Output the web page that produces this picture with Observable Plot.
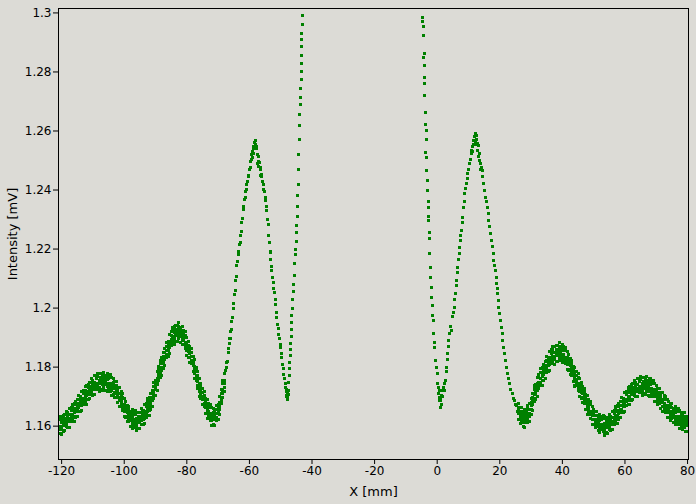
<!DOCTYPE html>
<html>
<head>
<meta charset="utf-8">
<script src="https://cdn.jsdelivr.net/npm/d3@7"></script>
<script src="https://cdn.jsdelivr.net/npm/@observablehq/plot@0.6"></script>
<style>
  html, body { margin: 0; padding: 0; background: #dcdbd6; }
  #chart { width: 696px; height: 504px; }
  #chart g[aria-label="x-axis label"] text,
  #chart g[aria-label="y-axis label"] text { font-size: 13px; }
</style>
</head>
<body>
<div id="chart"></div>
<script>
// Tick labels
const xTicks = [-120, -100, -80, -60, -40, -20, 0, 20, 40, 60, 80];
const yTicks = [1.16, 1.18, 1.2, 1.22, 1.24, 1.26, 1.28, 1.3];

// Left noisy band (columns of readings)
const bandLeftX = [-120.5,-120,-119.5,-119,-118.5,-118,-117.5,-117,-116.5,-116,-115.5,-115,-114.5,-114,-113.5,-113,-112.5,-112,-111.5,-111,-110.5,-110,-109.5,-109,-108.5,-108,-107.5,-107,-106.5,-106,-105.5,-105,-104.5,-104,-103.5,-103,-102.5,-102,-101.5,-101,-100.5,-100,-99.5,-99,-98.5,-98,-97.5,-97,-96.5,-96,-95.5,-95,-94.5,-94,-93.5,-93,-92.5,-92,-91.5,-91,-90.5,-90,-89.5,-89,-88.5,-88,-87.5,-87,-86.5,-86,-85.5,-85,-84.5,-84,-83.5,-83,-82.5,-82,-81.5,-81,-80.5,-80,-79.5,-79,-78.5,-78,-77.5,-77,-76.5,-76,-75.5,-75,-74.5,-74,-73.5,-73,-72.5,-72,-71.5,-71,-70.5,-70,-69.5,-69,-68.5,-68];
const bandLeftY = [
[1.1576,1.1598,1.1621,1.1587,1.1632],[1.1587,1.1611,1.1632,1.1571,1.1599],[1.1583,1.1602,1.1624,1.1613,1.1636],[1.1603,1.1626,1.1639,1.1584,1.1614],
[1.1599,1.1623,1.1638,1.1610,1.1651],[1.1595,1.1615,1.1634,1.1625,1.1645],[1.1615,1.1638,1.1660,1.1597,1.1626],[1.1617,1.1637,1.1653,1.1628,1.1664],
[1.1619,1.1641,1.1664,1.1630,1.1675],[1.1633,1.1657,1.1678,1.1617,1.1645],[1.1631,1.1650,1.1672,1.1661,1.1684],[1.1653,1.1676,1.1689,1.1634,1.1664],
[1.1651,1.1675,1.1690,1.1662,1.1703],[1.1649,1.1669,1.1688,1.1679,1.1699],[1.1671,1.1694,1.1716,1.1653,1.1682],[1.1673,1.1693,1.1709,1.1684,1.1720],
[1.1677,1.1699,1.1722,1.1688,1.1733],[1.1691,1.1715,1.1736,1.1675,1.1703],[1.1689,1.1708,1.1730,1.1719,1.1742],[1.1711,1.1734,1.1747,1.1692,1.1722],
[1.1708,1.1732,1.1747,1.1719,1.1760],[1.1705,1.1725,1.1744,1.1735,1.1755],[1.1725,1.1748,1.1770,1.1707,1.1736],[1.1724,1.1744,1.1760,1.1735,1.1771],
[1.1724,1.1746,1.1769,1.1735,1.1780],[1.1732,1.1756,1.1777,1.1716,1.1744],[1.1725,1.1744,1.1766,1.1755,1.1778],[1.1740,1.1763,1.1776,1.1721,1.1751],
[1.1731,1.1755,1.1770,1.1742,1.1783],[1.1721,1.1741,1.1760,1.1751,1.1771],[1.1734,1.1757,1.1779,1.1716,1.1745],[1.1726,1.1746,1.1762,1.1737,1.1773],
[1.1719,1.1741,1.1764,1.1730,1.1775],[1.1721,1.1745,1.1766,1.1705,1.1733],[1.1707,1.1726,1.1748,1.1737,1.1760],[1.1715,1.1738,1.1751,1.1696,1.1726],
[1.1698,1.1722,1.1737,1.1709,1.1750],[1.1681,1.1701,1.1720,1.1711,1.1731],[1.1686,1.1709,1.1731,1.1668,1.1697],[1.1670,1.1690,1.1706,1.1681,1.1717],
[1.1653,1.1675,1.1698,1.1664,1.1709],[1.1648,1.1672,1.1693,1.1632,1.1660],[1.1629,1.1648,1.1670,1.1659,1.1682],[1.1634,1.1657,1.1670,1.1615,1.1645],
[1.1616,1.1640,1.1655,1.1627,1.1668],[1.1600,1.1620,1.1639,1.1630,1.1650],[1.1610,1.1633,1.1655,1.1592,1.1621],[1.1602,1.1622,1.1638,1.1613,1.1649],
[1.1596,1.1618,1.1641,1.1607,1.1652],[1.1601,1.1625,1.1646,1.1585,1.1613],[1.1593,1.1612,1.1634,1.1623,1.1646],[1.1611,1.1634,1.1647,1.1592,1.1622],
[1.1607,1.1631,1.1646,1.1618,1.1659],[1.1604,1.1624,1.1643,1.1634,1.1654],[1.1627,1.1650,1.1672,1.1609,1.1638],[1.1631,1.1651,1.1667,1.1642,1.1678],
[1.1637,1.1659,1.1682,1.1648,1.1693],[1.1653,1.1677,1.1698,1.1637,1.1665],[1.1657,1.1676,1.1698,1.1687,1.1710],[1.1686,1.1709,1.1722,1.1667,1.1697],
[1.1695,1.1719,1.1734,1.1706,1.1747],[1.1705,1.1725,1.1744,1.1735,1.1755],[1.1740,1.1763,1.1785,1.1722,1.1751],[1.1755,1.1775,1.1791,1.1766,1.1802],
[1.1766,1.1788,1.1811,1.1777,1.1822],[1.1788,1.1812,1.1833,1.1772,1.1800],[1.1795,1.1814,1.1836,1.1825,1.1848],[1.1826,1.1849,1.1862,1.1807,1.1837],
[1.1832,1.1856,1.1871,1.1843,1.1884],[1.1837,1.1857,1.1876,1.1867,1.1887],[1.1865,1.1888,1.1910,1.1847,1.1876],[1.1872,1.1892,1.1908,1.1883,1.1919],
[1.1879,1.1901,1.1924,1.1890,1.1935],[1.1892,1.1916,1.1937,1.1876,1.1904],[1.1888,1.1907,1.1929,1.1918,1.1941],[1.1906,1.1929,1.1942,1.1887,1.1917],
[1.1898,1.1922,1.1937,1.1909,1.1950],[1.1885,1.1905,1.1924,1.1915,1.1935],[1.1893,1.1916,1.1938,1.1875,1.1904],[1.1878,1.1898,1.1914,1.1889,1.1925],
[1.1863,1.1885,1.1908,1.1874,1.1919],[1.1856,1.1880,1.1901,1.1840,1.1868],[1.1833,1.1852,1.1874,1.1863,1.1886],[1.1834,1.1857,1.1870,1.1815,1.1845],
[1.1811,1.1835,1.1850,1.1822,1.1863],[1.1785,1.1805,1.1824,1.1815,1.1835],[1.1780,1.1803,1.1825,1.1762,1.1791],[1.1753,1.1773,1.1789,1.1764,1.1800],
[1.1728,1.1750,1.1773,1.1739,1.1784],[1.1718,1.1742,1.1763,1.1702,1.1730],[1.1693,1.1712,1.1734,1.1723,1.1746],[1.1691,1.1714,1.1727,1.1672,1.1702],
[1.1666,1.1690,1.1705,1.1677,1.1718],[1.1643,1.1663,1.1682,1.1673,1.1693],[1.1645,1.1668,1.1690,1.1627,1.1656],[1.1631,1.1651,1.1667,1.1642,1.1678],
[1.1619,1.1641,1.1664,1.1630,1.1675],[1.1619,1.1643,1.1664,1.1603,1.1631],[1.1606,1.1625,1.1647,1.1636,1.1659],[1.1622,1.1645,1.1658,1.1603,1.1633],
[1.1619,1.1643,1.1658,1.1630,1.1671],[1.1622,1.1642,1.1661,1.1652,1.1672],[1.1657,1.1680,1.1702,1.1639,1.1668],[1.1676,1.1696,1.1712,1.1687,1.1723],
[1.1698,1.1720,1.1743,1.1709,1.1754],[1.1732,1.1756,1.1777,1.1716,1.1744]
];

// Left steep part: main left lobe and the rising edge toward the gap
const slopeLeftX = [-67.6,-67.4,-67.2,-67.0,-66.8,-66.6,-66.4,-66.2,-66.0,-65.8,-65.6,-65.4,-65.2,-65.0,-64.8,-64.6,-64.4,-64.2,-64.0,-63.8,-63.6,-63.4,-63.2,-63.0,-62.8,-62.6,-62.4,-62.2,-62.0,-61.8,-61.6,-61.4,-61.2,-61.0,-60.8,-60.6,-60.4,-60.2,-60.0,-59.8,-59.6,-59.4,-59.2,-59.0,-58.9,-58.8,-58.7,-58.6,-58.4,-58.2,-58.0,-57.8,-57.6,-57.5,-57.4,-57.2,-57.1,-57.0,-56.8,-56.6,-56.5,-56.4,-56.2,-56.0,-55.8,-55.6,-55.4,-55.2,-55.0,-54.8,-54.6,-54.4,-54.2,-54.0,-53.8,-53.6,-53.4,-53.2,-53.0,-52.8,-52.6,-52.4,-52.2,-52.0,-51.8,-51.6,-51.4,-51.2,-51.0,-50.8,-50.6,-50.4,-50.2,-50.0,-49.8,-49.6,-49.4,-49.2,-49.0,-48.8,-48.6,-48.4,-48.3,-48.2,-48.1,-48.0,-47.9,-47.8,-47.7,-47.6,-47.5,-47.4,-47.3,-47.2,-47.1,-47.0,-46.9,-46.8,-46.7,-46.6,-46.5,-46.4,-46.3,-46.1,-46.0,-45.9,-45.7,-45.5,-45.3,-45.2,-45.0,-44.9,-44.8,-44.7,-44.6,-44.5,-44.4,-44.3,-44.2,-44.1,-44.0,-43.9,-43.8,-43.7,-43.6,-43.5,-43.45,-43.4,-43.35,-43.3,-43.25,-43.2,-43.15,-43.1];
const slopeLeftY = [1.1790,1.1800,1.1815,1.1820,1.1850,1.1862,1.1880,1.1898,1.1920,1.1928,1.1955,1.1968,1.1998,1.2015,1.2045,1.2060,1.2092,1.2108,1.2145,1.2158,1.2182,1.2190,1.2215,1.2222,1.2245,1.2258,1.2290,1.2305,1.2335,1.2345,1.2368,1.2375,1.2395,1.2402,1.2420,1.2428,1.2445,1.2450,1.2470,1.2475,1.2495,1.2505,1.2522,1.2530,1.2510,1.2548,1.2525,1.2540,1.2562,1.2555,1.2568,1.2548,1.2542,1.2490,1.2520,1.2514,1.2480,1.2498,1.2492,1.2475,1.2450,1.2470,1.2452,1.2445,1.2430,1.2420,1.2402,1.2395,1.2375,1.2365,1.2345,1.2330,1.2300,1.2282,1.2245,1.2222,1.2190,1.2165,1.2140,1.2128,1.2102,1.2088,1.2065,1.2052,1.2028,1.2012,1.1985,1.1968,1.1945,1.1932,1.1910,1.1897,1.1878,1.1866,1.1845,1.1832,1.1810,1.1796,1.1775,1.1762,1.1745,1.1732,1.1700,1.1718,1.1725,1.1705,1.1690,1.1715,1.1698,1.1708,1.1720,1.1748,1.1770,1.1795,1.1815,1.1838,1.1860,1.1880,1.1905,1.1928,1.1950,1.1975,1.1998,1.2030,1.2055,1.2080,1.2110,1.2150,1.2180,1.2200,1.2225,1.2255,1.2280,1.2310,1.2345,1.2380,1.2420,1.2470,1.2520,1.2570,1.2620,1.2655,1.2690,1.2715,1.2745,1.2775,1.2800,1.2830,1.2855,1.2885,1.2910,1.2930,1.2962,1.2992];

// Right steep part: falling edge after the gap, central-right lobe
const slopeRightX = [-4.6,-4.55,-4.4,-4.3,-4.2,-4.25,-4.1,-4.0,-4.0,-3.95,-3.7,-3.6,-3.55,-3.5,-3.6,-3.5,-3.3,-3.2,-3.1,-2.9,-2.8,-2.7,-2.7,-2.5,-2.4,-2.4,-2.2,-2.15,-1.9,-1.7,-1.6,-1.4,-1.3,-1.1,-0.9,-0.8,-0.5,-0.3,0.0,0.2,0.4,0.5,0.6,0.8,0.9,1.0,1.2,1.3,1.5,1.6,1.8,2.0,2.2,2.4,2.7,2.9,3.0,3.2,3.4,3.6,3.7,4.0,4.3,4.5,4.8,5.1,5.4,5.6,5.9,6.1,6.2,6.4,6.5,6.8,7.0,7.2,7.3,7.5,7.7,8.0,8.2,8.5,8.7,8.8,9.1,9.4,9.6,9.8,10.1,10.4,10.6,10.9,11.1,11.2,11.4,11.5,11.7,12.0,12.1,12.3,12.5,12.6,12.7,12.8,13.0,13.1,13.3,13.5,13.6,13.9,14.0,14.1,14.4,14.6,14.9,15.2,15.5,15.7,16.0,16.3,16.5,16.8,17.1,17.3,17.6,17.9,18.1,18.4,18.7,18.8,19.0,19.2,19.4,19.6,19.7,20.0,20.3,20.5,20.8,21.0,21.3,21.5,21.8,22.1,22.4,22.7,23.1,23.5,24.0,24.3,24.7,25.0,25.4,25.6];
const slopeRightY = [1.2984,1.2970,1.2955,1.2922,1.2862,1.2850,1.2823,1.2781,1.2761,1.2720,1.2662,1.2622,1.2602,1.2570,1.2527,1.2510,1.2467,1.2431,1.2398,1.2360,1.2340,1.2310,1.2297,1.2255,1.2236,1.2184,1.2138,1.2104,1.2071,1.2035,1.2010,1.1975,1.1958,1.1914,1.1885,1.1868,1.1823,1.1800,1.1778,1.1744,1.1731,1.1710,1.1697,1.1720,1.1687,1.1664,1.1690,1.1705,1.1675,1.1720,1.1700,1.1730,1.1745,1.1720,1.1755,1.1785,1.1800,1.1825,1.1845,1.1870,1.1891,1.1915,1.1936,1.1925,1.1970,1.1985,1.2003,1.2030,1.2049,1.2075,1.2094,1.2139,1.2120,1.2165,1.2184,1.2205,1.2229,1.2245,1.2263,1.2290,1.2308,1.2342,1.2360,1.2388,1.2405,1.2422,1.2440,1.2456,1.2470,1.2489,1.2505,1.2523,1.2535,1.2546,1.2530,1.2555,1.2568,1.2580,1.2560,1.2591,1.2570,1.2555,1.2585,1.2557,1.2535,1.2550,1.2512,1.2525,1.2500,1.2489,1.2470,1.2475,1.2467,1.2445,1.2422,1.2400,1.2376,1.2360,1.2342,1.2320,1.2297,1.2275,1.2252,1.2230,1.2207,1.2185,1.2162,1.2145,1.2128,1.2105,1.2083,1.2065,1.2049,1.2025,1.2003,1.1980,1.1958,1.1935,1.1913,1.1890,1.1868,1.1845,1.1823,1.1800,1.1778,1.1760,1.1744,1.1725,1.1710,1.1695,1.1687,1.1675,1.1670,1.1650];

// Right noisy band
const bandRightX = [26,26.5,27,27.5,28,28.5,29,29.5,30,30.5,31,31.5,32,32.5,33,33.5,34,34.5,35,35.5,36,36.5,37,37.5,38,38.5,39,39.5,40,40.5,41,41.5,42,42.5,43,43.5,44,44.5,45,45.5,46,46.5,47,47.5,48,48.5,49,49.5,50,50.5,51,51.5,52,52.5,53,53.5,54,54.5,55,55.5,56,56.5,57,57.5,58,58.5,59,59.5,60,60.5,61,61.5,62,62.5,63,63.5,64,64.5,65,65.5,66,66.5,67,67.5,68,68.5,69,69.5,70,70.5,71,71.5,72,72.5,73,73.5,74,74.5,75,75.5,76,76.5,77,77.5,78,78.5,79,79.5];
const bandRightY = [
[1.1623,1.1642,1.1664,1.1653,1.1676],[1.1628,1.1651,1.1664,1.1609,1.1639],[1.1612,1.1636,1.1651,1.1623,1.1664],[1.1599,1.1619,1.1638,1.1629,1.1649],
[1.1613,1.1636,1.1658,1.1595,1.1624],[1.1611,1.1631,1.1647,1.1622,1.1658],[1.1614,1.1636,1.1659,1.1625,1.1670],[1.1632,1.1656,1.1677,1.1616,1.1644],
[1.1639,1.1658,1.1680,1.1669,1.1692],[1.1673,1.1696,1.1709,1.1654,1.1684],[1.1684,1.1708,1.1723,1.1695,1.1736],[1.1690,1.1710,1.1729,1.1720,1.1740],
[1.1720,1.1743,1.1765,1.1702,1.1731],[1.1729,1.1749,1.1765,1.1740,1.1776],[1.1738,1.1760,1.1783,1.1749,1.1794],[1.1755,1.1779,1.1800,1.1739,1.1767],
[1.1756,1.1775,1.1797,1.1786,1.1809],[1.1782,1.1805,1.1818,1.1763,1.1793],[1.1783,1.1807,1.1822,1.1794,1.1835],[1.1784,1.1804,1.1823,1.1814,1.1834],
[1.1808,1.1831,1.1853,1.1790,1.1819],[1.1811,1.1831,1.1847,1.1822,1.1858],[1.1814,1.1836,1.1859,1.1825,1.1870],[1.1825,1.1849,1.1870,1.1809,1.1837],
[1.1820,1.1839,1.1861,1.1850,1.1873],[1.1838,1.1861,1.1874,1.1819,1.1849],[1.1830,1.1854,1.1869,1.1841,1.1882],[1.1821,1.1841,1.1860,1.1851,1.1871],
[1.1833,1.1856,1.1878,1.1815,1.1844],[1.1823,1.1843,1.1859,1.1834,1.1870],[1.1812,1.1834,1.1857,1.1823,1.1868],[1.1809,1.1833,1.1854,1.1793,1.1821],
[1.1789,1.1808,1.1830,1.1819,1.1842],[1.1793,1.1816,1.1829,1.1774,1.1804],[1.1772,1.1796,1.1811,1.1783,1.1824],[1.1751,1.1771,1.1790,1.1781,1.1801],
[1.1754,1.1777,1.1799,1.1736,1.1765],[1.1737,1.1757,1.1773,1.1748,1.1784],[1.1721,1.1743,1.1766,1.1732,1.1777],[1.1716,1.1740,1.1761,1.1700,1.1728],
[1.1695,1.1714,1.1736,1.1725,1.1748],[1.1698,1.1721,1.1734,1.1679,1.1709],[1.1677,1.1701,1.1716,1.1688,1.1729],[1.1656,1.1676,1.1695,1.1686,1.1706],
[1.1659,1.1682,1.1704,1.1641,1.1670],[1.1642,1.1662,1.1678,1.1653,1.1689],[1.1627,1.1649,1.1672,1.1638,1.1683],[1.1623,1.1647,1.1668,1.1607,1.1635],
[1.1605,1.1624,1.1646,1.1635,1.1658],[1.1613,1.1636,1.1649,1.1594,1.1624],[1.1598,1.1622,1.1637,1.1609,1.1650],[1.1584,1.1604,1.1623,1.1614,1.1634],
[1.1595,1.1618,1.1640,1.1577,1.1606],[1.1587,1.1607,1.1623,1.1598,1.1634],[1.1581,1.1603,1.1626,1.1592,1.1637],[1.1586,1.1610,1.1631,1.1570,1.1598],
[1.1577,1.1596,1.1618,1.1607,1.1630],[1.1594,1.1617,1.1630,1.1575,1.1605],[1.1588,1.1612,1.1627,1.1599,1.1640],[1.1584,1.1604,1.1623,1.1614,1.1634],
[1.1605,1.1628,1.1650,1.1587,1.1616],[1.1607,1.1627,1.1643,1.1618,1.1654],[1.1611,1.1633,1.1656,1.1622,1.1667],[1.1625,1.1649,1.1670,1.1609,1.1637],
[1.1624,1.1643,1.1665,1.1654,1.1677],[1.1647,1.1670,1.1683,1.1628,1.1658],[1.1646,1.1670,1.1685,1.1657,1.1698],[1.1645,1.1665,1.1684,1.1675,1.1695],
[1.1668,1.1691,1.1713,1.1650,1.1679],[1.1671,1.1691,1.1707,1.1682,1.1718],[1.1675,1.1697,1.1720,1.1686,1.1731],[1.1689,1.1713,1.1734,1.1673,1.1701],
[1.1687,1.1706,1.1728,1.1717,1.1740],[1.1708,1.1731,1.1744,1.1689,1.1719],[1.1704,1.1728,1.1743,1.1715,1.1756],[1.1699,1.1719,1.1738,1.1729,1.1749],
[1.1717,1.1740,1.1762,1.1699,1.1728],[1.1715,1.1735,1.1751,1.1726,1.1762],[1.1713,1.1735,1.1758,1.1724,1.1769],[1.1720,1.1744,1.1765,1.1704,1.1732],
[1.1711,1.1730,1.1752,1.1741,1.1764],[1.1726,1.1749,1.1762,1.1707,1.1737],[1.1716,1.1740,1.1755,1.1727,1.1768],[1.1705,1.1725,1.1744,1.1735,1.1755],
[1.1717,1.1740,1.1762,1.1699,1.1728],[1.1708,1.1728,1.1744,1.1719,1.1755],[1.1699,1.1721,1.1744,1.1710,1.1755],[1.1699,1.1723,1.1744,1.1683,1.1711],
[1.1684,1.1703,1.1725,1.1714,1.1737],[1.1692,1.1715,1.1728,1.1673,1.1703],[1.1676,1.1700,1.1715,1.1687,1.1728],[1.1660,1.1680,1.1699,1.1690,1.1710],
[1.1668,1.1691,1.1713,1.1650,1.1679],[1.1656,1.1676,1.1692,1.1667,1.1703],[1.1645,1.1667,1.1690,1.1656,1.1701],[1.1645,1.1669,1.1690,1.1629,1.1657],
[1.1630,1.1649,1.1671,1.1660,1.1683],[1.1639,1.1662,1.1675,1.1620,1.1650],[1.1625,1.1649,1.1664,1.1636,1.1677],[1.1611,1.1631,1.1650,1.1641,1.1661],
[1.1622,1.1645,1.1667,1.1604,1.1633],[1.1613,1.1633,1.1649,1.1624,1.1660],[1.1605,1.1627,1.1650,1.1616,1.1661],[1.1607,1.1631,1.1652,1.1591,1.1619],
[1.1594,1.1613,1.1635,1.1624,1.1647],[1.1606,1.1629,1.1642,1.1587,1.1617],[1.1594,1.1618,1.1633,1.1605,1.1646],[1.1582,1.1602,1.1621,1.1612,1.1632]
];

// Build a flat table for the library
const points = [
  ...bandLeftX.flatMap((x, i) => bandLeftY[i].map(y => ({x, y}))),
  ...slopeLeftX.map((x, i) => ({x, y: slopeLeftY[i]})),
  ...slopeRightX.map((x, i) => ({x, y: slopeRightY[i]})),
  ...bandRightX.flatMap((x, i) => bandRightY[i].map(y => ({x, y})))
];

const chart = Plot.plot({
  width: 696,
  height: 504,
  marginLeft: 58,
  marginRight: 8,
  marginTop: 8,
  marginBottom: 45,
  style: {
    background: "#dcdbd6",
    fontFamily: "'DejaVu Sans', sans-serif",
    fontSize: "12px",
    color: "black"
  },
  x: {
    domain: [-121, 80.3],
    ticks: xTicks,
    tickFormat: d => String(d),
    tickSize: 5,
    tickPadding: 2,
    label: "X [mm]",
    labelAnchor: "center",
    labelArrow: "none",
    labelOffset: 36
  },
  y: {
    domain: [1.1487, 1.3015],
    ticks: yTicks,
    tickFormat: d => String(d),
    tickSize: 5,
    tickPadding: 2,
    label: "Intensity [mV]",
    labelAnchor: "center",
    labelArrow: "none",
    labelOffset: 51
  },
  marks: [
    Plot.frame({stroke: "black"}),
    Plot.dot(points, {
      x: "x",
      y: "y",
      symbol: "square",
      r: 1.7,
      fill: "green",
      stroke: "none",
      shapeRendering: "crispEdges"
    })
  ]
});
document.getElementById("chart").appendChild(chart);
</script>
</body>
</html>
